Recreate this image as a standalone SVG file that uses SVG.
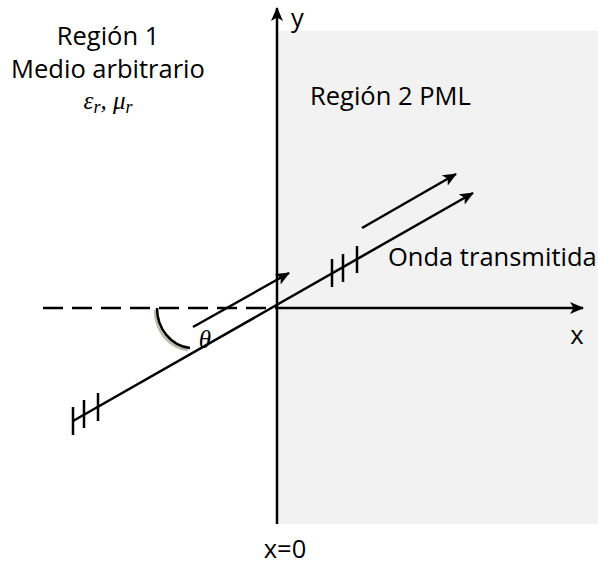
<svg xmlns="http://www.w3.org/2000/svg" width="598" height="569" viewBox="0 0 598 569">
<style>
.ln{stroke:#000;stroke-width:2.5;fill:none}
.tk{stroke:#000;stroke-width:2.5;fill:none}
.t{font-family:"Open Sans","Liberation Sans",sans-serif;font-size:25.5px;fill:#000}
.m{font-family:"Liberation Serif","DejaVu Serif",serif;font-style:italic;fill:#000}
</style>
<defs>
<marker id="ah" viewBox="0 0 14 12" refX="13" refY="6" markerWidth="14" markerHeight="12" markerUnits="userSpaceOnUse" orient="auto">
<path d="M0,0 L14,6 L0,12 L3.5,6 z" fill="#000"/>
</marker>
</defs>
<rect id="region2" x="277" y="31" width="321" height="493" fill="#f2f2f2"/>
<g id="connectors">
<line class="ln" x1="43" y1="308" x2="277" y2="308" stroke-dasharray="20,9"/>
<line class="ln" x1="277" y1="308" x2="583" y2="308" marker-end="url(#ah)"/>
<line class="ln" x1="277" y1="524" x2="277" y2="8" marker-end="url(#ah)"/>
<line class="ln" x1="73" y1="421" x2="473" y2="193" marker-end="url(#ah)"/>
<line class="ln" x1="193" y1="327" x2="289" y2="273" marker-end="url(#ah)"/>
<line class="ln" x1="362" y1="228" x2="456" y2="174" marker-end="url(#ah)"/>
<path d="M155,310 A36,40 0 0 0 188,350" stroke="#b9bdaa" stroke-width="2.5" fill="none"/>
<path class="ln" d="M157,308 A36,40 0 0 0 190,348"/>
</g>
<g id="ticks">
<line class="tk" x1="73" y1="407" x2="73" y2="435"/>
<line class="tk" x1="84" y1="400" x2="84" y2="428"/>
<line class="tk" x1="98" y1="393" x2="98" y2="421"/>
<line class="tk" x1="332" y1="259" x2="332" y2="287"/>
<line class="tk" x1="343" y1="254" x2="343" y2="282"/>
<line class="tk" x1="357" y1="246" x2="357" y2="273"/>
</g>
<g id="labels">
<text class="t" x="108" y="45" text-anchor="middle">Región 1</text>
<text class="t" x="108" y="78" text-anchor="middle">Medio arbitrario</text>
<text class="m" x="108" y="109" text-anchor="middle" font-size="25">ε<tspan font-size="18" dy="4">r</tspan><tspan dy="-4">, μ</tspan><tspan font-size="18" dy="4">r</tspan></text>
<text class="t" x="310" y="105">Región 2 PML</text>
<text class="t" x="388" y="266">Onda transmitida</text>
<text class="t" x="291" y="27">y</text>
<text class="t" x="577" y="344" text-anchor="middle">x</text>
<text class="t" x="285" y="558" text-anchor="middle">x=0</text>
<text class="m" x="205" y="348" text-anchor="middle" font-size="25">θ</text>
</g>
</svg>
